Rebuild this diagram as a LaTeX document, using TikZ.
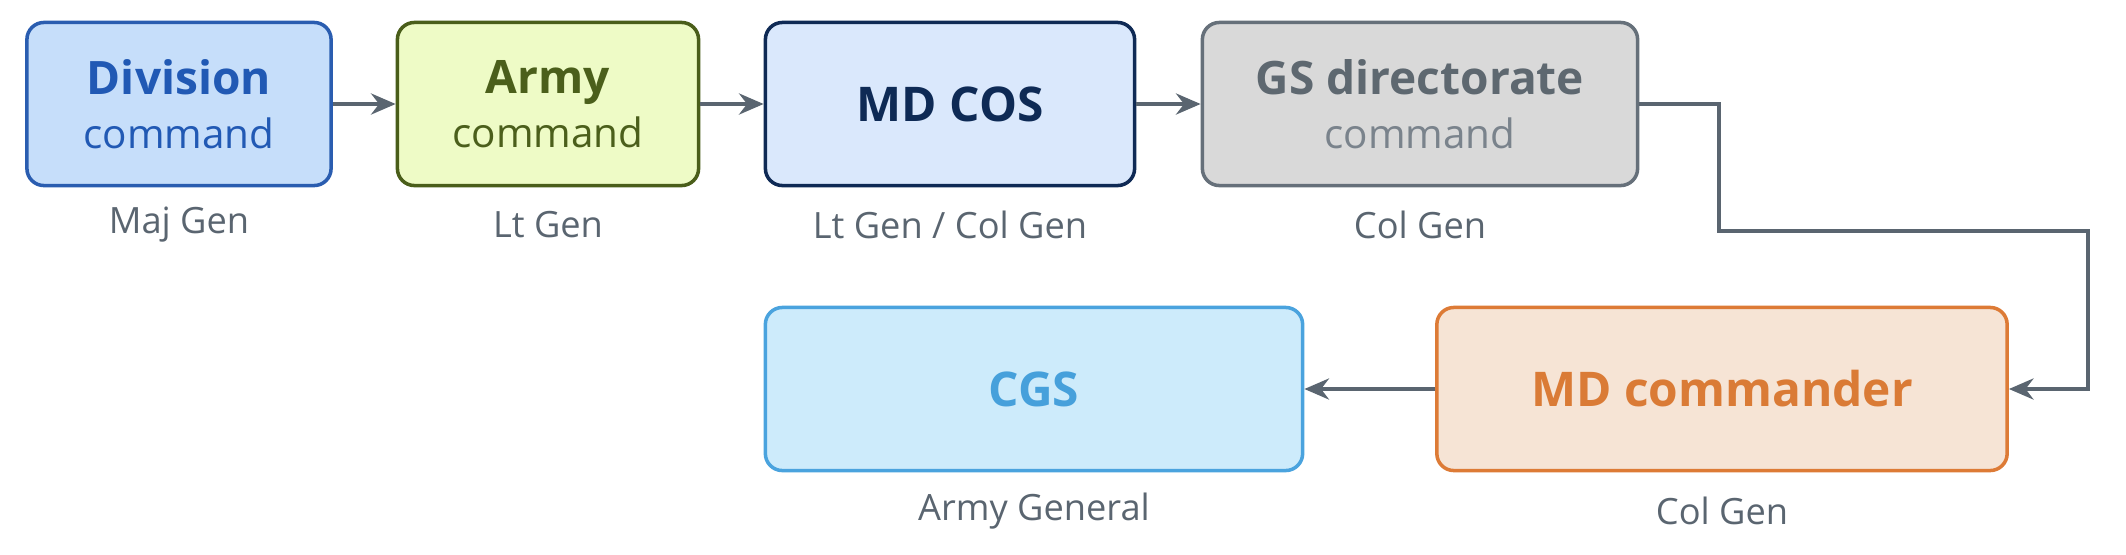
\documentclass[tikz,border=0pt]{standalone}
\usepackage{fontspec}
\setmainfont{Open Sans}
\usetikzlibrary{arrows.meta}

\definecolor{divfill}{HTML}{C6DEFA}
\definecolor{divline}{HTML}{2A5DB0}
\definecolor{divtext}{HTML}{2159B4}
\definecolor{armfill}{HTML}{EEFBC6}
\definecolor{armline}{HTML}{4A5E1A}
\definecolor{armtext}{HTML}{4B5F1B}
\definecolor{cosfill}{HTML}{DAE8FC}
\definecolor{cosline}{HTML}{0F2A55}
\definecolor{costext}{HTML}{0E2A55}
\definecolor{gsfill}{HTML}{D9D9D9}
\definecolor{gsline}{HTML}{66707A}
\definecolor{gstext}{HTML}{5E6870}
\definecolor{gssub}{HTML}{7A838C}
\definecolor{cgsfill}{HTML}{CDEBFB}
\definecolor{cgsline}{HTML}{4AA3DE}
\definecolor{cgstext}{HTML}{46A0DB}
\definecolor{mdfill}{HTML}{F6E4D5}
\definecolor{mdline}{HTML}{DD7B36}
\definecolor{mdtext}{HTML}{DA7B36}
\definecolor{rank}{HTML}{5A6570}

\begin{document}
\begin{tikzpicture}[x=0.01cm,y=-0.01cm,
  box/.style={rounded corners=0.17cm,line width=1pt,minimum height=1.63cm,
    align=center,inner sep=0pt,font=\fontsize{11.5}{15.5}\selectfont},
  title/.style={font=\bfseries\fontsize{13.6}{16}\selectfont},
  rnk/.style={text=rank,font=\fontsize{10.3}{12}\selectfont},
  conn/.style={draw=rank,line width=1pt,-{Stealth[length=7pt,width=6pt]}}]
\useasboundingbox (0,0) rectangle (2126,554);
            % Boxes
\node[box,draw=divline,fill=divfill,text=divtext,minimum width=3.04cm] (division) at (179,104)
  {{\bfseries\fontsize{13.1}{15.5}\selectfont Division}\\command};
\node[box,draw=armline,fill=armfill,text=armtext,minimum width=3.01cm] (army) at (548,104)
  {{\bfseries\fontsize{13.1}{15.5}\selectfont Army}\\command};
\node[box,title,draw=cosline,fill=cosfill,text=costext,minimum width=3.69cm] (mdcos) at (950,104)
  {MD COS};
\node[box,draw=gsline,fill=gsfill,text=gssub,minimum width=4.35cm] (gsdir) at (1420,104)
  {{\bfseries\fontsize{13.1}{15.5}\selectfont\color{gstext}GS directorate}\\command};
\node[box,title,draw=mdline,fill=mdfill,text=mdtext,minimum width=5.70cm] (mdcmd) at (1722,389)
  {MD commander};
\node[box,title,draw=cgsline,fill=cgsfill,text=cgstext,minimum width=5.37cm] (cgs) at (1034,389)
  {CGS};
            % Ranks
\node[rnk] (rdivision) at (179,225) {Maj Gen};
\node[rnk] (rarmy) at (548,225) {Lt Gen};
\node[rnk] (rmdcos) at (950,225) {Lt Gen / Col Gen};
\node[rnk] (rgsdir) at (1420,225) {Col Gen};
\node[rnk] (rmdcmd) at (1722,511) {Col Gen};
\node[rnk] (rcgs) at (1034,511) {Army General};
            % Chain
\coordinate (bendA) at (1719,231);
\coordinate (bendB) at (2088,231);
\draw[conn] (division) -- (army);
\draw[conn] (army) -- (mdcos);
\draw[conn] (mdcos) -- (gsdir);
\draw[conn] (gsdir.east) -| (bendA) -- (bendB) |- (mdcmd.east);
\draw[conn] (mdcmd) -- (cgs);

\end{tikzpicture}
\end{document}
